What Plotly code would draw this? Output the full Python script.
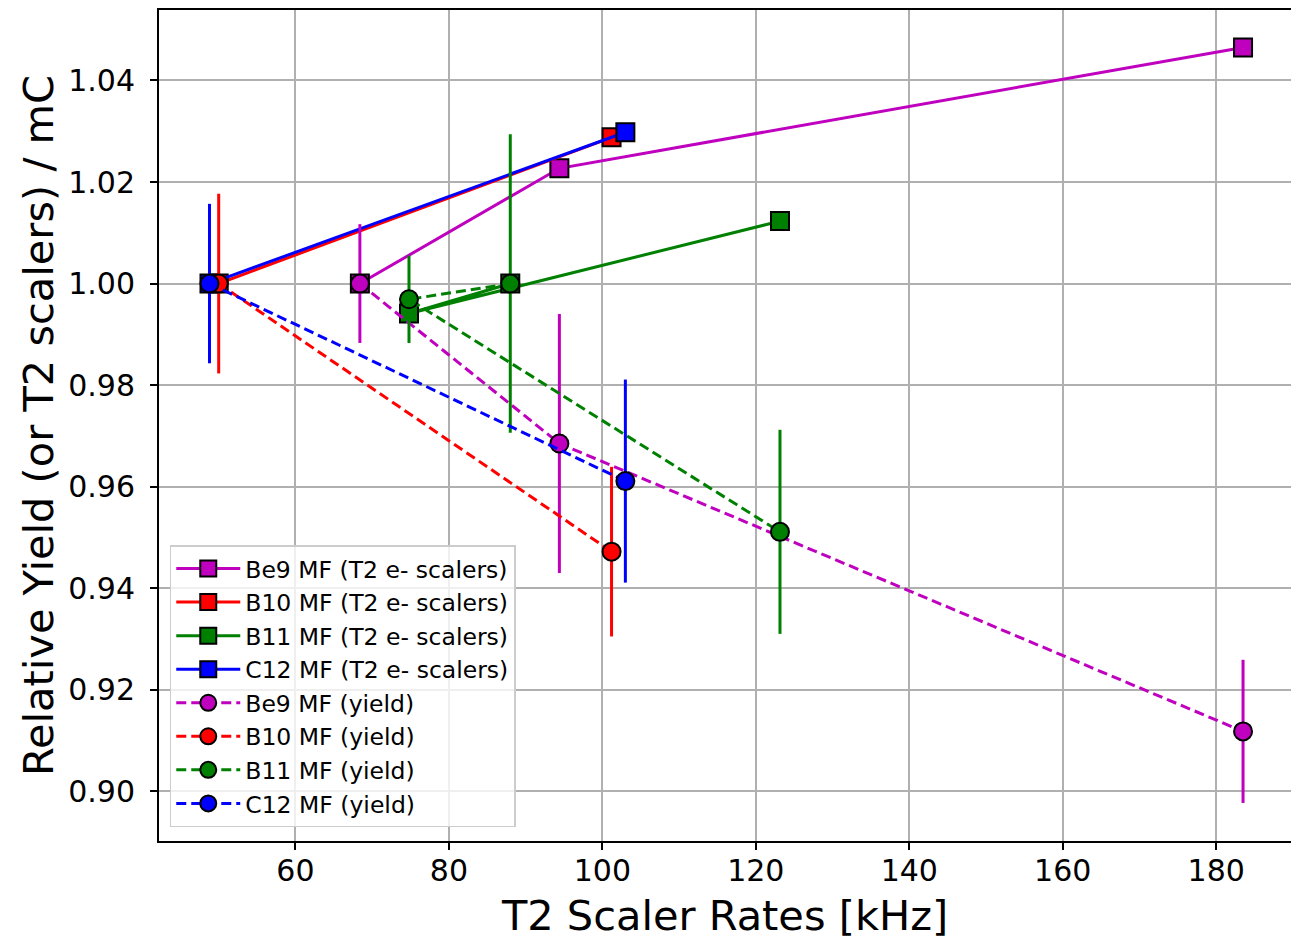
import plotly.graph_objects as go

# T2 scaler rates [kHz] for each target
rate_be9 = [68.4, 94.4, 183.5]
rate_b10 = [50.0, 101.2]
rate_b11 = [88.0, 74.8, 123.15]
rate_c12 = [48.8, 103.0]

# Relative T2 e- scaler counts per mC
scaler_be9 = [1.000, 1.0227, 1.0465]
scaler_b10 = [1.000, 1.0288]
scaler_b11 = [1.000, 0.9941, 1.0123]
scaler_c12 = [1.000, 1.0298]

# Relative yield per mC and its uncertainty
yield_be9 = [1.000, 0.9685, 0.9118]
yerr_be9 = [0.0117, 0.0255, 0.0141]
yield_b10 = [1.000, 0.9472]
yerr_b10 = [0.0177, 0.0167]
yield_b11 = [1.000, 0.9969, 0.9511]
yerr_b11 = [0.0294, 0.0086, 0.0201]
yield_c12 = [1.000, 0.9611]
yerr_c12 = [0.0157, 0.0200]

x_ticks = [60, 80, 100, 120, 140, 160, 180]
y_ticks = [0.90, 0.92, 0.94, 0.96, 0.98, 1.00, 1.02, 1.04]

MAGENTA = "#bf00bf"
RED = "#ff0000"
GREEN = "#008000"
BLUE = "#0000ff"

FONT = "DejaVu Sans"
LW = 3

fig = go.Figure()

scaler_sets = [
    ("Be9 MF (T2 e- scalers)", rate_be9, scaler_be9, MAGENTA),
    ("B10 MF (T2 e- scalers)", rate_b10, scaler_b10, RED),
    ("B11 MF (T2 e- scalers)", rate_b11, scaler_b11, GREEN),
    ("C12 MF (T2 e- scalers)", rate_c12, scaler_c12, BLUE),
]
for name, xs, ys, color in scaler_sets:
    fig.add_trace(go.Scatter(
        x=xs, y=ys, name=name, mode="lines+markers",
        line=dict(color=color, width=LW),
        marker=dict(symbol="square", size=18, color=color,
                    line=dict(color="black", width=2)),
    ))

yield_sets = [
    ("Be9 MF (yield)", rate_be9, yield_be9, yerr_be9, MAGENTA),
    ("B10 MF (yield)", rate_b10, yield_b10, yerr_b10, RED),
    ("B11 MF (yield)", rate_b11, yield_b11, yerr_b11, GREEN),
    ("C12 MF (yield)", rate_c12, yield_c12, yerr_c12, BLUE),
]
for name, xs, ys, errs, color in yield_sets:
    fig.add_trace(go.Scatter(
        x=xs, y=ys, name=name, mode="lines+markers",
        line=dict(color=color, width=LW, dash="10px,5px"),
        marker=dict(symbol="circle", size=18, color=color,
                    line=dict(color="black", width=2)),
        error_y=dict(type="data", array=errs, visible=True,
                     color=color, thickness=LW, width=0),
    ))

axis_common = dict(
    showgrid=True, gridcolor="#b0b0b0", gridwidth=1.5,
    zeroline=False, showline=True, linecolor="black", linewidth=2,
    ticks="outside", ticklen=7, tickwidth=2, tickcolor="black",
    tickfont=dict(family=FONT, size=30, color="black"),
)

fig.update_layout(
    width=1291, height=940,
    margin=dict(l=159, r=0, t=10, b=99),
    paper_bgcolor="white", plot_bgcolor="white",
    font=dict(family=FONT, color="black"),
    xaxis=dict(
        **axis_common, range=[42.22, 189.75], mirror=True,
        tickvals=x_ticks, ticktext=[str(v) for v in x_ticks],
        ticklabelstandoff=-5,
        title=dict(text="T2 Scaler Rates [kHz]", standoff=20,
                   font=dict(family=FONT, size=41.5, color="black")),
    ),
    yaxis=dict(
        **axis_common, range=[0.89021, 1.05388],
        tickvals=y_ticks, ticktext=[f"{v:.2f}" for v in y_ticks],
        ticklabelstandoff=9,
        title=dict(text="Relative Yield (or T2 scalers) / mC", standoff=2,
                   font=dict(family=FONT, size=41.5, color="black")),
    ),
    legend=dict(
        x=0.0095, y=0.0165, xanchor="left", yanchor="bottom",
        bgcolor="rgba(255,255,255,0.8)", bordercolor="#cccccc", borderwidth=1.5,
        font=dict(family=FONT, size=23.5, color="black"),
        tracegroupgap=0, itemwidth=64,
    ),
    showlegend=True,
)

fig.write_html("out.html")
